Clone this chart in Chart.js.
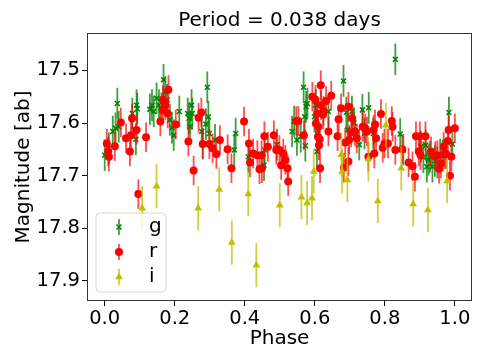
<!DOCTYPE html>
<html>
<head>
<meta charset="utf-8">
<script src="https://cdn.jsdelivr.net/npm/chart.js@4"></script>
<style>
  html, body { margin: 0; padding: 0; background: #fff; }
</style>
</head>
<body>
<canvas id="lc" width="485" height="363"></canvas>
<script>
// phase / magnitude
const gPhase = [0.000, 0.012, 0.023, 0.031, 0.036, 0.040, 0.079, 0.089, 0.091, 0.093,
  0.129, 0.135, 0.140, 0.148, 0.155, 0.162, 0.168, 0.173, 0.178, 0.186,
  0.192, 0.197, 0.213, 0.237, 0.241, 0.244, 0.248, 0.250, 0.277, 0.280,
  0.289, 0.293, 0.296, 0.299, 0.315, 0.370, 0.374, 0.410, 0.455, 0.457,
  0.492, 0.535, 0.541, 0.549, 0.560, 0.568, 0.571, 0.573, 0.575, 0.579,
  0.599, 0.603, 0.606, 0.609, 0.639, 0.682, 0.690, 0.694, 0.706, 0.712,
  0.727, 0.736, 0.742, 0.754, 0.767, 0.830, 0.844, 0.853, 0.903, 0.910,
  0.917, 0.920, 0.925, 0.929, 0.936, 0.943, 0.950, 0.958, 0.965, 0.983, 0.993];
const gMag = [17.661, 17.648, 17.616, 17.610, 17.563, 17.607, 17.582, 17.631, 17.566, 17.573,
  17.574, 17.566, 17.578, 17.553, 17.566, 17.572, 17.518, 17.541, 17.556, 17.594,
  17.609, 17.623, 17.578, 17.582, 17.591, 17.607, 17.566, 17.582, 17.616, 17.639,
  17.602, 17.532, 17.588, 17.620, 17.632, 17.651, 17.620, 17.664, 17.680, 17.651,
  17.641, 17.616, 17.597, 17.632, 17.626, 17.532, 17.588, 17.643, 17.569, 17.563,
  17.588, 17.566, 17.654, 17.620, 17.578, 17.520, 17.580, 17.613, 17.578, 17.600,
  17.641, 17.575, 17.620, 17.571, 17.620, 17.479, 17.621, 17.651, 17.645, 17.665,
  17.642, 17.683, 17.670, 17.664, 17.683, 17.672, 17.675, 17.660, 17.662, 17.580, 17.640];

const rPhase = [0.006, 0.010, 0.012, 0.029, 0.046, 0.061, 0.072, 0.078, 0.075, 0.091,
  0.096, 0.118, 0.159, 0.166, 0.166, 0.173, 0.182, 0.180, 0.203, 0.239,
  0.254, 0.268, 0.276, 0.280, 0.299, 0.308, 0.319, 0.329, 0.351, 0.362,
  0.398, 0.412, 0.415, 0.424, 0.436, 0.442, 0.448, 0.449, 0.456, 0.466,
  0.483, 0.490, 0.499, 0.504, 0.510, 0.516, 0.522, 0.524, 0.547, 0.553,
  0.569, 0.593, 0.602, 0.603, 0.607, 0.610, 0.609, 0.612, 0.614, 0.615,
  0.617, 0.618, 0.624, 0.625, 0.632, 0.639, 0.647, 0.665, 0.668, 0.675,
  0.683, 0.687, 0.696, 0.696, 0.698, 0.704, 0.707, 0.715, 0.720, 0.737,
  0.744, 0.749, 0.753, 0.768, 0.770, 0.772, 0.775, 0.789, 0.794, 0.799,
  0.809, 0.820, 0.822, 0.830, 0.850, 0.868, 0.879, 0.886, 0.889, 0.897,
  0.900, 0.902, 0.916, 0.932, 0.944, 0.950, 0.955, 0.960, 0.968, 0.971,
  0.975, 0.980, 0.982, 0.986, 0.990, 1.000];
const rMag = [17.639, 17.654, 17.664, 17.644, 17.599, 17.629, 17.654, 17.591, 17.623, 17.613,
  17.735, 17.627, 17.597, 17.556, 17.575, 17.566, 17.537, 17.582, 17.603, 17.635,
  17.690, 17.590, 17.580, 17.640, 17.640, 17.648, 17.659, 17.632, 17.650, 17.686,
  17.597, 17.639, 17.675, 17.658, 17.661, 17.688, 17.661, 17.686, 17.625, 17.645,
  17.623, 17.651, 17.651, 17.680, 17.658, 17.670, 17.686, 17.711, 17.596, 17.596,
  17.623, 17.550, 17.556, 17.601, 17.582, 17.607, 17.626, 17.642, 17.631, 17.686,
  17.528, 17.566, 17.584, 17.577, 17.558, 17.616, 17.548, 17.625, 17.593, 17.572,
  17.685, 17.637, 17.569, 17.673, 17.632, 17.618, 17.591, 17.616, 17.629, 17.607,
  17.610, 17.616, 17.664, 17.613, 17.658, 17.603, 17.629, 17.583, 17.647, 17.639,
  17.639, 17.596, 17.607, 17.651, 17.650, 17.675, 17.682, 17.702, 17.625, 17.654,
  17.625, 17.661, 17.625, 17.654, 17.663, 17.661, 17.687, 17.677, 17.645, 17.659,
  17.659, 17.634, 17.613, 17.700, 17.664, 17.610];

const iPhase = [0.107, 0.148, 0.267, 0.327, 0.363, 0.410, 0.433, 0.500, 0.562, 0.578,
  0.592, 0.597, 0.676, 0.678, 0.693, 0.753, 0.780, 0.803, 0.847, 0.881, 0.923, 0.978];
const iMag = [17.762, 17.720, 17.762, 17.726, 17.827, 17.735, 17.870, 17.756, 17.741, 17.752,
  17.743, 17.692, 17.660, 17.692, 17.708, 17.669, 17.748, 17.604, 17.686, 17.754, 17.765, 17.710];

const gErr = 0.03;
const rErr = 0.028;
const iErr = 0.042;

const bandNames = ['g', 'r', 'i'];
const xTicks = [0.0, 0.2, 0.4, 0.6, 0.8, 1.0];
const yTicks = [17.5, 17.6, 17.7, 17.8, 17.9];

const FONT = 'DejaVu Sans';

function pts(xs, ys) {
  return xs.map((x, i) => ({ x: x, y: ys[i] }));
}

// vertical error bars drawn just under each dataset's markers
const errorBars = {
  id: 'errorBars',
  beforeDatasetDraw(chart, args) {
    const ds = chart.data.datasets[args.index];
    const yScale = chart.scales.y;
    const ctx = chart.ctx;
    ctx.save();
    ctx.strokeStyle = ds.errColor;
    ctx.lineWidth = 1.8;
    args.meta.data.forEach((el, i) => {
      const m = ds.data[i].y;
      ctx.beginPath();
      ctx.moveTo(el.x, yScale.getPixelForValue(m - ds.err));
      ctx.lineTo(el.x, yScale.getPixelForValue(m + ds.err));
      ctx.stroke();
    });
    ctx.restore();
  }
};

// axes frame and matplotlib-like legend box
const frameAndLegend = {
  id: 'frameAndLegend',
  afterDraw(chart) {
    const ctx = chart.ctx;
    const a = chart.chartArea;
    ctx.save();
    ctx.strokeStyle = '#333';
    ctx.lineWidth = 1;
    ctx.strokeRect(a.left + 0.5, a.top + 0.5, a.right - a.left - 1, a.bottom - a.top - 1);

    // legend box
    const bx = 96, by = 213, bw = 70, bh = 79, r = 4;
    ctx.beginPath();
    ctx.moveTo(bx + r, by);
    ctx.arcTo(bx + bw, by, bx + bw, by + bh, r);
    ctx.arcTo(bx + bw, by + bh, bx, by + bh, r);
    ctx.arcTo(bx, by + bh, bx, by, r);
    ctx.arcTo(bx, by, bx + bw, by, r);
    ctx.closePath();
    ctx.fillStyle = 'rgba(255,255,255,0.8)';
    ctx.fill();
    ctx.strokeStyle = '#d6d6d6';
    ctx.stroke();

    chart.data.datasets.forEach((ds, k) => {
      const cx = 119, cy = 227 + k * 25;
      ctx.strokeStyle = ds.errColor;
      ctx.lineWidth = 1.8;
      ctx.beginPath();
      ctx.moveTo(cx, cy - 8);
      ctx.lineTo(cx, cy + 8);
      ctx.stroke();
      ctx.fillStyle = ds.backgroundColor;
      ctx.strokeStyle = ds.borderColor;
      ctx.lineWidth = ds.borderWidth;
      Chart.helpers.drawPoint(ctx, {
        pointStyle: ds.pointStyle,
        radius: ds.pointRadius,
        borderWidth: ds.borderWidth,
        rotation: 0
      }, cx, cy);
      ctx.fillStyle = '#000';
      ctx.font = '20px "' + FONT + '"';
      ctx.textAlign = 'left';
      ctx.textBaseline = 'middle';
      ctx.fillText(bandNames[k], 149, cy);
    });
    ctx.restore();
  }
};

const ctx = document.getElementById('lc').getContext('2d');
new Chart(ctx, {
  type: 'scatter',
  data: {
    datasets: [{
      label: bandNames[0],
      data: pts(gPhase, gMag),
      err: gErr,
      errColor: 'rgba(0,128,0,0.75)',
      pointStyle: 'crossRot',
      pointRadius: 3.5,
      borderWidth: 1.5,
      borderColor: '#008000',
      backgroundColor: '#008000',
      order: 3
    }, {
      label: bandNames[1],
      data: pts(rPhase, rMag),
      err: rErr,
      errColor: 'rgba(255,0,0,0.7)',
      pointStyle: 'circle',
      pointRadius: 4,
      borderWidth: 0,
      borderColor: '#ff0000',
      backgroundColor: '#ff0000',
      order: 2
    }, {
      label: bandNames[2],
      data: pts(iPhase, iMag),
      err: iErr,
      errColor: 'rgba(191,191,0,0.75)',
      pointStyle: 'triangle',
      pointRadius: 4.5,
      borderWidth: 0,
      borderColor: '#bfbf00',
      backgroundColor: '#bfbf00',
      order: 1
    }]
  },
  options: {
    responsive: false,
    animation: false,
    layout: { padding: { left: 0, right: 13, top: 0, bottom: 0 } },
    plugins: {
      legend: { display: false },
      tooltip: { enabled: false },
      title: {
        display: true,
        fullSize: false,
        text: 'Period = 0.038 days',
        color: '#000',
        font: { family: FONT, size: 20, weight: 'normal' },
        padding: { top: 9, bottom: 0 }
      }
    },
    scales: {
      x: {
        type: 'linear',
        min: -0.0506,
        max: 1.049,
        afterBuildTicks: s => { s.ticks = xTicks.map(v => ({ value: v })); },
        afterFit: s => { s.height = 62; },
        grid: { display: true, drawOnChartArea: false, tickLength: 5, tickColor: '#000' },
        border: { display: false },
        ticks: {
          color: '#000',
          padding: 1,
          maxRotation: 0,
          font: { family: FONT, size: 19.5 },
          callback: v => v.toFixed(1)
        },
        title: {
          display: true,
          text: 'Phase',
          color: '#000',
          font: { family: FONT, size: 20 },
          padding: { top: 0, bottom: 12 }
        }
      },
      y: {
        type: 'linear',
        reverse: true,
        min: 17.429,
        max: 17.938,
        afterBuildTicks: s => { s.ticks = yTicks.map(v => ({ value: v })); },
        afterFit: s => { s.width = 87; },
        grid: { display: true, drawOnChartArea: false, tickLength: 5, tickColor: '#000' },
        border: { display: false },
        ticks: {
          color: '#000',
          padding: 2,
          font: { family: FONT, size: 19.5 },
          callback: v => v.toFixed(1)
        },
        title: {
          display: true,
          text: 'Magnitude [ab]',
          color: '#000',
          font: { family: FONT, size: 20 },
          padding: { top: 12, bottom: 0 }
        }
      }
    }
  },
  plugins: [errorBars, frameAndLegend]
});
</script>
</body>
</html>
